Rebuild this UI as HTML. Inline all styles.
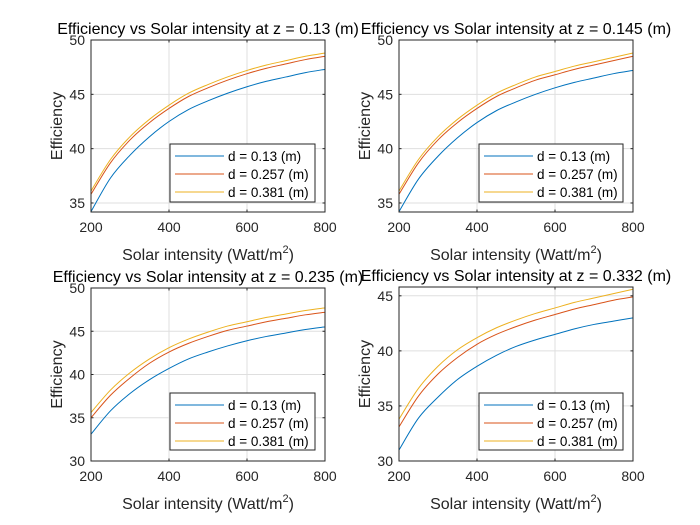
<!DOCTYPE html>
<html><head><meta charset="utf-8"><style>
body{margin:0;background:#fff;}
svg{display:block;font-family:"Liberation Sans",Arial,sans-serif;}
</style></head><body>
<svg id="fig" width="700" height="525" viewBox="0 0 700 525" xmlns="http://www.w3.org/2000/svg">
<rect width="700" height="525" fill="#fff"/>
</svg>
<script>
const xs = [200,250,300,350,400,450,500,550,600,650,700,750,800];
const titles = ["Efficiency vs Solar intensity at z = 0.13 (m)","Efficiency vs Solar intensity at z = 0.145 (m)","Efficiency vs Solar intensity at z = 0.235 (m)","Efficiency vs Solar intensity at z = 0.332 (m)"];
const legendLabels = ["d = 0.13 (m)","d = 0.257 (m)","d = 0.381 (m)"];
const p1Blue = [34.2,37.3,39.4,41.1,42.5,43.6,44.4,45.1,45.7,46.2,46.6,47.0,47.3];
const p1Red = [35.8,38.7,40.8,42.4,43.7,44.8,45.6,46.3,46.9,47.4,47.8,48.2,48.5];
const p1Yellow = [36.1,39.0,41.1,42.7,44.0,45.1,45.9,46.6,47.2,47.7,48.1,48.5,48.8];
const p2Blue = [34.2,37.2,39.3,41.0,42.4,43.5,44.3,45.0,45.6,46.1,46.5,46.9,47.2];
const p2Red = [35.8,38.7,40.8,42.4,43.7,44.8,45.6,46.3,46.8,47.3,47.7,48.1,48.5];
const p2Yellow = [36.1,39.0,41.1,42.7,44.0,45.1,45.9,46.6,47.1,47.6,48.0,48.4,48.8];
const p3Blue = [33.1,35.8,37.8,39.4,40.7,41.8,42.6,43.3,43.9,44.4,44.8,45.2,45.5];
const p3Red = [35.0,37.6,39.6,41.3,42.6,43.6,44.4,45.1,45.6,46.1,46.5,46.9,47.2];
const p3Yellow = [35.6,38.2,40.2,41.8,43.1,44.1,44.9,45.6,46.1,46.6,47.0,47.4,47.7];
const p4Blue = [31.0,33.9,35.8,37.4,38.6,39.6,40.4,41.0,41.5,42.0,42.4,42.7,43.0];
const p4Red = [33.1,35.9,37.9,39.4,40.6,41.5,42.2,42.8,43.3,43.8,44.2,44.6,44.9];
const p4Yellow = [33.8,36.6,38.6,40.1,41.2,42.1,42.8,43.4,43.9,44.4,44.8,45.2,45.6];
const yTicks1 = [35,40,45,50];
const yTicks3 = [30,35,40,45,50];
const yTicks4 = [30,35,40,45];
const xTicks = [200,400,600,800];
const ylims = [[34.17,50],[34.17,50],[30,50],[30,45.8]];

const panels = [
 {l:91,r:325,t:40,b:212,series:[p1Blue,p1Red,p1Yellow],yt:yTicks1,lg:[170,144,145,58]},
 {l:399,r:633,t:40,b:212,series:[p2Blue,p2Red,p2Yellow],yt:yTicks1,lg:[479,144,144,58]},
 {l:91,r:325,t:288,b:461,series:[p3Blue,p3Red,p3Yellow],yt:yTicks3,lg:[170,393,145,57]},
 {l:399,r:633,t:287,b:461,series:[p4Blue,p4Red,p4Yellow],yt:yTicks4,lg:[479,393,144,57]}
];
const colors=["#0072bd","#d95319","#edb120"];
const svg=document.getElementById('fig');
const NS="http://www.w3.org/2000/svg";
function mk(tag,attrs,parent){const e=document.createElementNS(NS,tag);for(const k in attrs)e.setAttribute(k,attrs[k]);(parent||svg).appendChild(e);return e;}
panels.forEach((P,i)=>{
 const g=mk('g',{});
 
 
 const [y0,y1]=ylims[i];
 const X=v=>P.l+(v-200)/600*(P.r-P.l);
 const Y=v=>P.b-(v-y0)/(y1-y0)*(P.b-P.t);
 mk('rect',{x:P.l,y:P.t,width:P.r-P.l,height:P.b-P.t,fill:'#fff'},g);
 xTicks.forEach(t=>{
  const gl=mk('line',{x1:X(t),x2:X(t),y1:P.t,y2:P.b,stroke:'#dfdfdf','stroke-width':1},g);
  
  
  mk('line',{x1:X(t),x2:X(t),y1:P.b,y2:P.b-2.5,stroke:'#262626'},g);
  mk('line',{x1:X(t),x2:X(t),y1:P.t,y2:P.t+2.5,stroke:'#262626'},g);
  const tx=mk('text',{x:X(t),y:P.b+20,'font-size':14,'text-anchor':'middle',fill:'#262626'},g);
  tx.textContent=t;
  
  
 });
 P.yt.forEach(t=>{
  const gl=mk('line',{x1:P.l,x2:P.r,y1:Y(t),y2:Y(t),stroke:'#dfdfdf','stroke-width':1},g);
  
  
  mk('line',{x1:P.l,x2:P.l+2.5,y1:Y(t),y2:Y(t),stroke:'#262626'},g);
  mk('line',{x1:P.r,x2:P.r-2.5,y1:Y(t),y2:Y(t),stroke:'#262626'},g);
  const tx=mk('text',{x:P.l-6,y:Y(t)+5,'font-size':14,'text-anchor':'end',fill:'#262626'},g);
  tx.textContent=t;
  
  
 });
 P.series.forEach((s,k)=>{
  const pts=xs.map((x,j)=>[X(x),Y(s[j])]);
  let d='M'+pts[0][0]+','+pts[0][1];
  for(let j=0;j<pts.length-1;j++){
   const p0=pts[Math.max(j-1,0)],p1=pts[j],p2=pts[j+1],p3=pts[Math.min(j+2,pts.length-1)];
   const c1=[p1[0]+(p2[0]-p0[0])/6,p1[1]+(p2[1]-p0[1])/6];
   const c2=[p2[0]-(p3[0]-p1[0])/6,p2[1]-(p3[1]-p1[1])/6];
   d+=' C'+c1+' '+c2+' '+p2;
  }
  const pa=mk('path',{d:d,fill:'none',stroke:colors[k],'stroke-width':1},g);
  
  
 });
 const box=mk('rect',{x:P.l,y:P.t,width:P.r-P.l,height:P.b-P.t,fill:'none',stroke:'#262626','stroke-width':1},g);
 
 
 const ti=mk('text',{x:(P.l+P.r)/2,y:P.t-6,'font-size':16,'text-anchor':'middle',fill:'#000'},g);
 ti.textContent=titles[i];
 
 
 const xl=mk('text',{x:(P.l+P.r)/2,y:P.b+48,'font-size':16,'text-anchor':'middle',fill:'#262626'},g);
 xl.innerHTML='Solar intensity (Watt/m<tspan dy="-7" font-size="11">2</tspan><tspan dy="7">)</tspan>';
 
 
 const yl=mk('text',{x:0,y:0,'font-size':16,'text-anchor':'middle',fill:'#262626',transform:'translate('+(P.l-29)+','+((P.t+P.b)/2)+') rotate(-90)'},g);
 yl.textContent='Efficiency';
 
 
 const [lx,ly,lw,lh]=P.lg;
 const lgG=mk('g',{},g);
 
 
 mk('rect',{x:lx,y:ly,width:lw,height:lh,fill:'#fff',stroke:'#262626','stroke-width':1},lgG);
 legendLabels.forEach((lab,k)=>{
  const yy=ly+12+k*18;
  const ent=mk('g',{},lgG);
  
  
  mk('line',{x1:lx+5,x2:lx+54,y1:yy,y2:yy,stroke:colors[k],'stroke-width':1},ent);
  const t=mk('text',{x:lx+58,y:yy+5,'font-size':13.5,fill:'#000'},ent);
  t.textContent=lab;
 });
});
</script>
</body></html>
